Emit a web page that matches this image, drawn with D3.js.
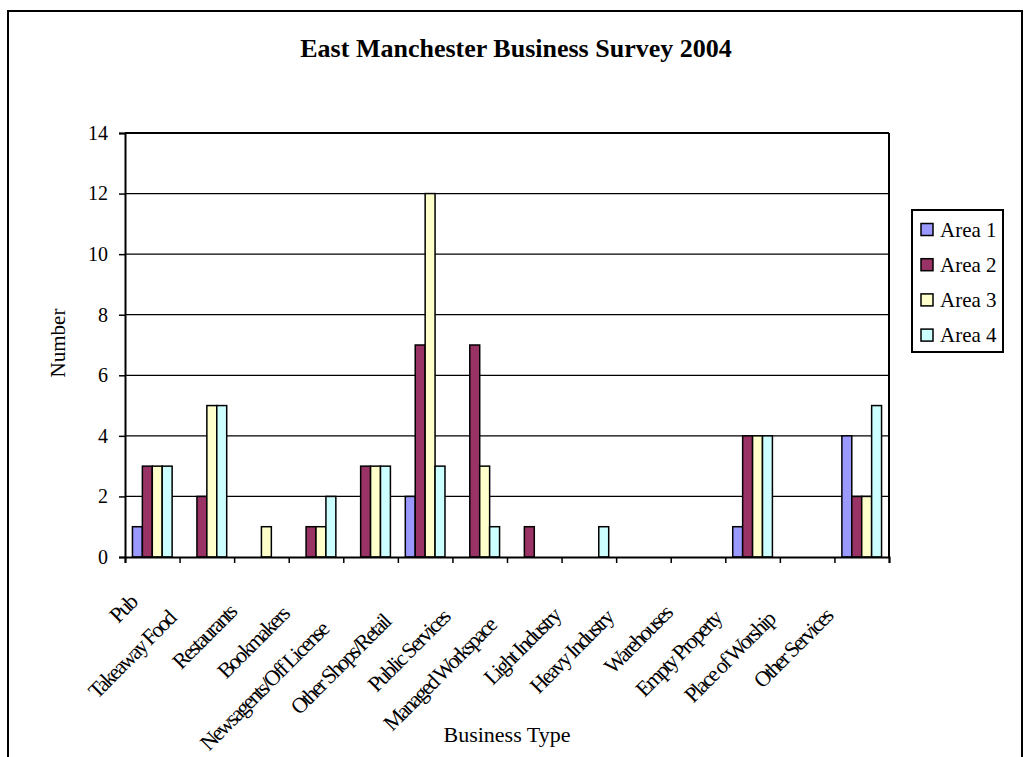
<!DOCTYPE html>
<html><head><meta charset="utf-8">
<script src="https://cdn.jsdelivr.net/npm/d3@7"></script>
<style>
html,body{margin:0;padding:0;background:#fff;}
text{font-family:"Liberation Serif","Times New Roman",serif;fill:#000;}
</style></head>
<body><svg id="c" width="1031" height="757"></svg>
<script>
const categories = ["Pub","Takeaway Food","Restaurants","Bookmakers","Newsagents/Off License","Other Shops/Retail","Public Services","Managed Workspace","Light Industry","Heavy Industry","Warehouses","Empty Property","Place of Worship","Other Services"];
const seriesNames = ["Area 1","Area 2","Area 3","Area 4"];
const area1 = [1,0,0,0,0,2,0,0,0,0,0,1,0,4];
const area2 = [3,2,0,1,3,7,7,1,0,0,0,4,0,2];
const area3 = [3,5,1,1,3,12,3,0,0,0,0,4,0,2];
const area4 = [3,5,0,2,3,3,1,0,1,0,0,4,0,5];
const colors = ["#9999FF","#993366","#FFFFCC","#CCFFFF"];
const yTicks = [0,2,4,6,8,10,12,14];

const values = [area1,area2,area3,area4];
const svg = d3.select("#c");
const L = 125, R = 889, T = 133, B = 557;

// outer border
svg.append("rect").attr("x",8).attr("y",11).attr("width",1014).attr("height",780)
  .attr("fill","none").attr("stroke","#000").attr("stroke-width",2);

const x0 = d3.scaleBand().domain(categories).range([L,R]).paddingInner(0).paddingOuter(0);
const x1 = d3.scaleBand().domain(seriesNames).range([0,x0.bandwidth()]).paddingInner(0).paddingOuter(0.75);
const y = d3.scaleLinear().domain([0,14]).range([B,T]);

// gridlines
svg.append("g").selectAll("line").data(yTicks.filter(d=>d>0)).join("line")
  .attr("x1",L).attr("x2",R).attr("y1",d=>y(d)).attr("y2",d=>y(d))
  .attr("stroke","#000").attr("stroke-width",d=>d===14?2:1.2);
// right border
svg.append("line").attr("x1",R).attr("x2",R).attr("y1",T).attr("y2",B).attr("stroke","#000").attr("stroke-width",2);

// bars
const g = svg.append("g");
categories.forEach((c,i)=>{
  seriesNames.forEach((s,j)=>{
    const v = values[j][i];
    if(v<=0) return;
    g.append("rect").attr("x",x0(c)+x1(s)).attr("y",y(v))
      .attr("width",x1.bandwidth()).attr("height",y(0)-y(v))
      .attr("fill",colors[j]).attr("stroke","#000").attr("stroke-width",1.5);
  });
});

// y axis
const ya = svg.append("g").attr("transform",`translate(${L},0)`)
  .call(d3.axisLeft(y).tickValues(yTicks).tickSize(6).tickPadding(11).tickFormat(d3.format("d")));
ya.select(".domain").attr("stroke","#000").attr("stroke-width",2);
ya.selectAll(".tick line").attr("stroke","#000").attr("stroke-width",1.5);
ya.selectAll(".tick text").attr("font-size",20).attr("font-family","Liberation Serif").attr("fill","#000");

// x axis line and ticks at category boundaries
const xb = d3.scaleLinear().domain([0,categories.length]).range([L,R]);
const xa = svg.append("g").attr("transform",`translate(0,${B})`)
  .call(d3.axisBottom(xb).tickValues(d3.range(categories.length+1)).tickSize(6).tickFormat(""));
xa.select(".domain").attr("stroke","#000").attr("stroke-width",2);
xa.selectAll(".tick line").attr("stroke","#000").attr("stroke-width",1.5);

// category labels, rotated -45
const lab = svg.append("g");
categories.forEach((c,i)=>{
  const cx = x0(c) + x0.bandwidth()/2;
  const t = lab.append("text").attr("font-size",22).attr("letter-spacing","-2.1px")
    .attr("text-anchor","end").text(c);
  const A = t.node().getComputedTextLength();
  const e = 8.9 + 0.19*A;
  const bx = cx - e, by = 590 + e;
  t.attr("transform",`translate(${bx},${by}) rotate(-45)`);
});

// titles
svg.append("text").attr("x",516).attr("y",57).attr("text-anchor","middle")
  .attr("font-size",26).attr("font-weight","bold").text("East Manchester Business Survey 2004");
svg.append("text").attr("x",507).attr("y",742).attr("text-anchor","middle")
  .attr("font-size",22).text("Business Type");
svg.append("text").attr("transform","translate(65,343) rotate(-90)").attr("text-anchor","middle")
  .attr("font-size",21).text("Number");

// legend
const lg = svg.append("g");
lg.append("rect").attr("x",912).attr("y",210).attr("width",91).attr("height",142)
  .attr("fill","#fff").attr("stroke","#000").attr("stroke-width",2);
seriesNames.forEach((s,j)=>{
  const cy = 229.5 + j*35.2;
  lg.append("rect").attr("x",921).attr("y",cy-6).attr("width",12).attr("height",12)
    .attr("fill",colors[j]).attr("stroke","#000").attr("stroke-width",1.5);
  lg.append("text").attr("x",940).attr("y",cy+7).attr("font-size",21).text(s);
});
</script></body></html>
